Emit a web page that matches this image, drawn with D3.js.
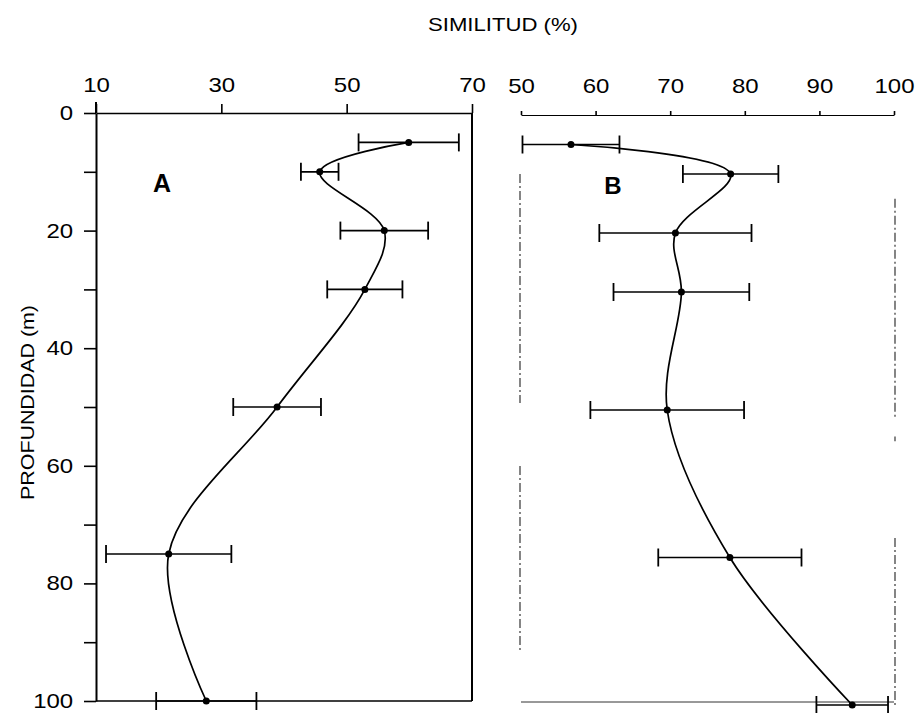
<!DOCTYPE html>
<html>
<head>
<meta charset="utf-8">
<script src="https://cdn.jsdelivr.net/npm/d3@7"></script>
<style>
body { margin: 0; background: #fff; }
svg { display: block; font-family: "Liberation Sans", Arial, sans-serif; }
</style>
</head>
<body>
<div id="chart"></div>
<script>
// depth of each sample (m)
var depths = [5, 10, 20, 30, 50, 75, 100];
// panel A : similitud (%) and half error bar
var simA = [59.9, 45.7, 56.0, 52.9, 38.9, 21.6, 27.6];
var errA = [8, 3, 7, 6, 7, 10, 8];
// panel B
var simB = [56.7, 78.1, 70.7, 71.5, 69.6, 78.0, 94.4];
var errB = [6.5, 6.4, 10.2, 9.1, 10.3, 9.6, 4.8];

// tick labels
var depthTicks = [0, 10, 20, 30, 40, 50, 60, 70, 80, 90, 100];
var ticksA = [10, 30, 50, 70];
var ticksB = [50, 60, 70, 80, 90, 100];

// broken (scanned) frame of panel B, in depth units
var leftFrameB = [[10, 48.8], [59.5, 91]];
var rightFrameB = [[14.2, 51.5], [54.5, 55.3], [71.7, 100]];

var svg = d3.select("#chart")
    .append("svg")
    .attr("width", 919)
    .attr("height", 713);

var xA = d3.scaleLinear().domain([10, 70]).range([96, 472]);
var yA = d3.scaleLinear().domain([0, 100]).range([113, 701]);
var xB = d3.scaleLinear().domain([50, 100]).range([521, 894]);
var yB = d3.scaleLinear().domain([0, 100]).range([115, 705]);

var rowsA = depths.map((d, i) => ({depth: d, sim: simA[i], err: errA[i]}));
var rowsB = depths.map((d, i) => ({depth: d, sim: simB[i], err: errB[i]}));

function styleAxis(g, sw) {
    g.selectAll("path").attr("stroke", "#000").attr("stroke-width", sw);
    g.selectAll("line").attr("stroke", "#000").attr("stroke-width", 1.6);
    g.selectAll("text")
        .attr("fill", "#000")
        .attr("font-size", 20)
        .attr("font-family", "Liberation Sans, Arial, sans-serif")
        .attr("transform", "scale(1.2,1)");
}

// ---- panel A axes ----
var leftA = svg.append("g")
    .attr("transform", `translate(${xA(10)},0)`)
    .call(d3.axisLeft(yA).tickValues(depthTicks).tickSize(12).tickSizeOuter(0).tickPadding(7)
        .tickFormat(d => d % 20 === 0 ? d : ""));
styleAxis(leftA, 2);
// axis line pokes above the top rule
svg.append("line")
    .attr("x1", xA(10)).attr("x2", xA(10))
    .attr("y1", yA(0) - 11).attr("y2", yA(0))
    .attr("stroke", "#000").attr("stroke-width", 2);

var topA = svg.append("g")
    .attr("transform", `translate(0,${yA(0)})`)
    .call(d3.axisTop(xA).tickValues(ticksA).tickSize(9).tickSizeOuter(0).tickPadding(12));
styleAxis(topA, 1.6);

// right frame + bottom rule of A
svg.append("line")
    .attr("x1", xA(70)).attr("x2", xA(70))
    .attr("y1", yA(0)).attr("y2", yA(100))
    .attr("stroke", "#000").attr("stroke-width", 2);
svg.append("line")
    .attr("x1", xA(10)).attr("x2", xA(70))
    .attr("y1", yA(100)).attr("y2", yA(100))
    .attr("stroke", "#000").attr("stroke-width", 1.4);

// ---- panel B axes ----
var topB = svg.append("g")
    .attr("transform", `translate(0,${yB(0)})`)
    .call(d3.axisTop(xB).tickValues(ticksB).tickSize(4).tickSizeOuter(0).tickPadding(18));
styleAxis(topB, 1.1);

svg.append("line")
    .attr("x1", xB(50)).attr("x2", xB(100))
    .attr("y1", yB(100) - 3).attr("y2", yB(100) - 3)
    .attr("stroke", "#333").attr("stroke-width", 1);

function frameSegs(segs, xpos) {
    svg.selectAll(null)
        .data(segs)
        .enter()
        .append("line")
        .attr("x1", xpos).attr("x2", xpos)
        .attr("y1", d => yB(d[0]))
        .attr("y2", d => yB(d[1]))
        .attr("stroke", "#222")
        .attr("stroke-width", 1.1)
        .attr("stroke-dasharray", "9,3,2,3");
}
frameSegs(leftFrameB, xB(50) - 1);
frameSegs(rightFrameB, xB(100) + 1);

// ---- error bars, curves and dots ----
function drawPanel(rows, x, y) {
    var g = svg.append("g");

    g.selectAll(".bar")
        .data(rows)
        .enter()
        .append("line")
        .attr("x1", d => x(d.sim - d.err))
        .attr("x2", d => x(d.sim + d.err))
        .attr("y1", d => y(d.depth))
        .attr("y2", d => y(d.depth))
        .attr("stroke", "#000")
        .attr("stroke-width", 1.7);

    [-1, 1].forEach(function(side) {
        g.selectAll(null)
            .data(rows)
            .enter()
            .append("line")
            .attr("x1", d => x(d.sim + side * d.err))
            .attr("x2", d => x(d.sim + side * d.err))
            .attr("y1", d => y(d.depth) - 9)
            .attr("y2", d => y(d.depth) + 9)
            .attr("stroke", "#000")
            .attr("stroke-width", 1.8);
    });

    var line = d3.line()
        .x(d => x(d.sim))
        .y(d => y(d.depth))
        .curve(d3.curveCatmullRom.alpha(0.5));

    g.append("path")
        .datum(rows)
        .attr("d", line)
        .attr("fill", "none")
        .attr("stroke", "#000")
        .attr("stroke-width", 1.7);

    g.selectAll("circle")
        .data(rows)
        .enter()
        .append("circle")
        .attr("cx", d => x(d.sim))
        .attr("cy", d => y(d.depth))
        .attr("r", 3.5)
        .attr("fill", "#000");
}
drawPanel(rowsA, xA, yA);
drawPanel(rowsB, xB, yB);

// ---- panel letters and titles ----
svg.append("text")
    .attr("x", 162).attr("y", 192)
    .attr("text-anchor", "middle")
    .attr("font-size", 25).attr("font-weight", "bold")
    .text("A");
svg.append("text")
    .attr("x", 613).attr("y", 194)
    .attr("text-anchor", "middle")
    .attr("font-size", 24).attr("font-weight", "bold")
    .text("B");

svg.append("text")
    .attr("x", 428).attr("y", 31)
    .attr("font-size", 18)
    .attr("textLength", 150)
    .attr("lengthAdjust", "spacingAndGlyphs")
    .text("SIMILITUD (%)");

svg.append("text")
    .attr("transform", "translate(34,500) rotate(-90)")
    .attr("font-size", 18)
    .attr("textLength", 195)
    .attr("lengthAdjust", "spacingAndGlyphs")
    .text("PROFUNDIDAD (m)");
</script>
</body>
</html>
